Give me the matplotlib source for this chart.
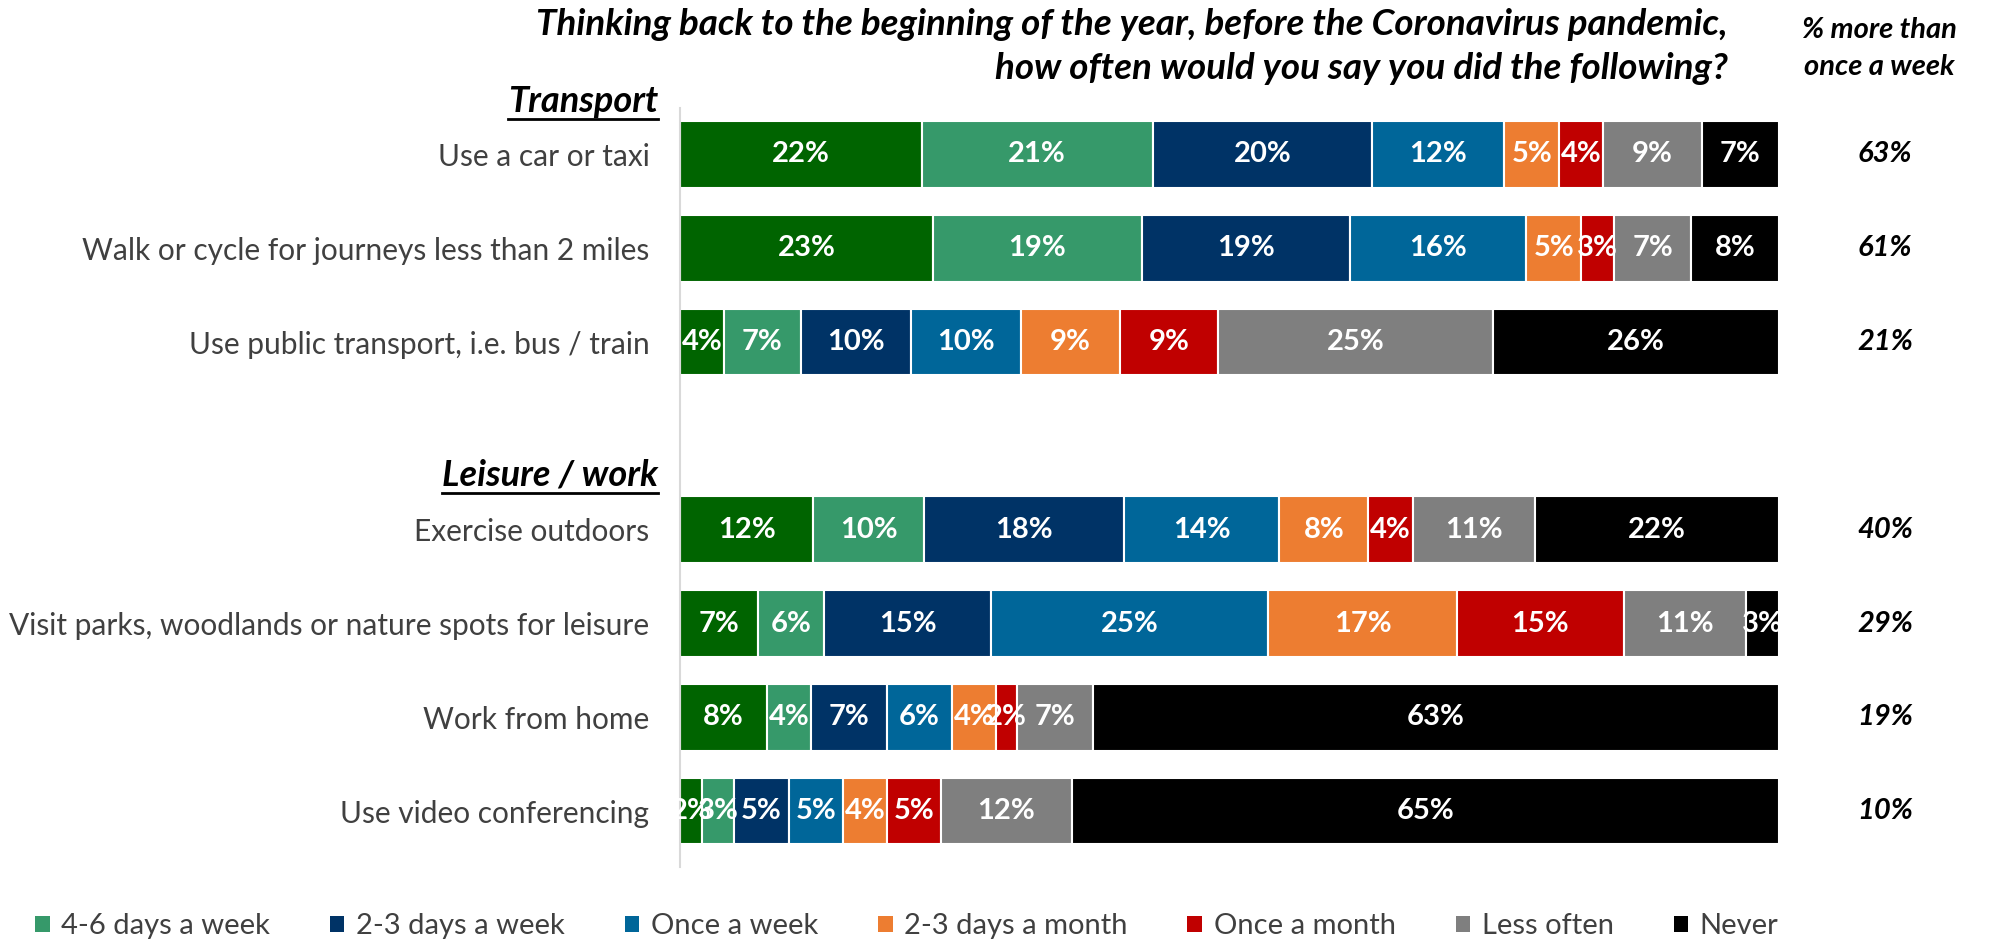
import matplotlib.pyplot as plt
import numpy as np
from matplotlib.patches import Patch
from matplotlib.lines import Line2D

plt.rcParams['font.family'] = ['Lato', 'DejaVu Sans']

# Survey answers, top row first
activities = ['Use a car or taxi',
              'Walk or cycle for journeys less than 2 miles',
              'Use public transport, i.e. bus / train',
              'Exercise outdoors',
              'Visit parks, woodlands or nature spots for leisure',
              'Work from home',
              'Use video conferencing']
frequencies = ['Every day', '4-6 days a week', '2-3 days a week', 'Once a week',
               '2-3 days a month', 'Once a month', 'Less often', 'Never']
colors = ['#006400', '#36996A', '#003366', '#006699',
          '#ED7D31', '#C00000', '#7F7F7F', '#000000']

every_day = [22, 23, 4, 12, 7, 8, 2]
days_4_6 = [21, 19, 7, 10, 6, 4, 3]
days_2_3 = [20, 19, 10, 18, 15, 7, 5]
once_week = [12, 16, 10, 14, 25, 6, 5]
month_2_3 = [5, 5, 9, 8, 17, 4, 4]
once_month = [4, 3, 9, 4, 15, 2, 5]
less_often = [9, 7, 25, 11, 11, 7, 12]
never = [7, 8, 26, 22, 3, 63, 65]
more_than_weekly = [63, 61, 21, 40, 29, 19, 10]

values = np.array([every_day, days_4_6, days_2_3, once_week,
                   month_2_3, once_month, less_often, never], dtype=float)
totals = values.sum(axis=0)
shares = values / totals * 100  # each row drawn as a full 100% bar

# blank slot between the two groups
ypos = [0, 1, 2, 4, 5, 6, 7]

fig = plt.figure(figsize=(19.97, 9.52), dpi=100)
ax = fig.add_axes([0.3405, 0.0888, 0.5503, 0.7982])

left = np.zeros(len(activities))
for i, (name, col) in enumerate(zip(frequencies, colors)):
    ax.barh(ypos, shares[i], left=left, height=0.71, color=col,
            edgecolor='white', linewidth=1.5, label=name)
    for y, l, w, v in zip(ypos, left, shares[i], values[i]):
        ax.text(l + w / 2, y, f'{v:.0f}%', ha='center', va='center',
                color='white', fontsize=21, fontweight='bold')
    left += shares[i]

ax.set_xlim(0, 100)
ax.set_ylim(7.6, -0.5)
ax.set_yticks(ypos)
ax.set_yticklabels(activities, fontsize=21.5, color='#404040')
ax.tick_params(axis='y', length=0, pad=22)
ax.set_xticks([])
for side in ['top', 'right', 'bottom']:
    ax.spines[side].set_visible(False)
ax.spines['left'].set_color('#D9D9D9')
ax.spines['left'].set_linewidth(1.5)

# share doing it more than once a week
for y, p in zip(ypos, more_than_weekly):
    ax.text(1.0965, y, f'{p}%', transform=ax.get_yaxis_transform(),
            ha='center', va='center', fontsize=21, fontweight='bold',
            style='italic', color='black')

fig.text(0.865, 0.951, 'Thinking back to the beginning of the year, before the Coronavirus pandemic,\n'
         'how often would you say you did the following?', ha='right', va='center',
         multialignment='right', fontsize=26.5, fontweight='bold', style='italic',
         linespacing=1.4)
fig.text(0.941, 0.949, '% more than\nonce a week', ha='center', va='center',
         fontsize=21, fontweight='bold', style='italic', linespacing=1.5)

# group headings, underlined
headings = []
for label, y in [('Transport', -0.56), ('Leisure / work', 3.42)]:
    headings.append(ax.text(-0.02, y, label, transform=ax.get_yaxis_transform(),
                            ha='right', va='center', fontsize=26,
                            fontweight='bold', style='italic'))

handles = [Patch(facecolor=c) for c in colors[1:]]
fig.legend(handles, frequencies[1:], loc='center left',
           bbox_to_anchor=(0.0175, 0.027), ncol=7, frameon=False,
           fontsize=21, handlelength=0.5, handleheight=0.5,
           handletextpad=0.4, columnspacing=2.05, borderpad=0,
           borderaxespad=0, labelcolor='#404040')

fig.canvas.draw()
renderer = fig.canvas.get_renderer()
for t in headings:
    bb = t.get_window_extent(renderer)
    x0, x1 = bb.x0 / fig.bbox.width, bb.x1 / fig.bbox.width
    yl = (bb.y0 - 1) / fig.bbox.height
    fig.add_artist(Line2D([x0, x1], [yl, yl], transform=fig.transFigure,
                          color='black', linewidth=2))

fig.savefig('out.png', dpi=100)
